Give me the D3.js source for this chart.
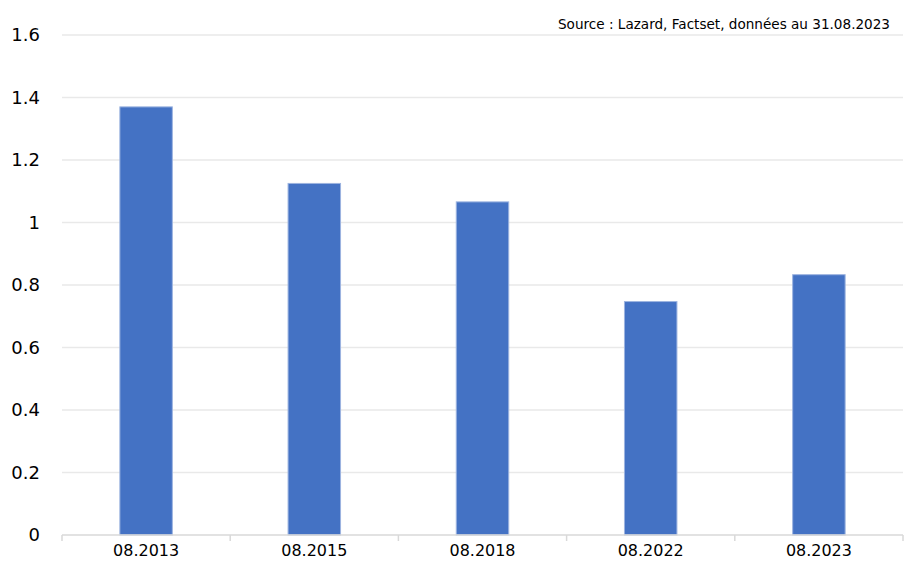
<!DOCTYPE html>
<html>
<head>
<meta charset="utf-8">
<script src="https://cdn.jsdelivr.net/npm/d3@7"></script>
<style>
    body { margin: 0; background: #fff; }
    text { font-family: "DejaVu Sans", Verdana, sans-serif; fill: #000; }
</style>
</head>
<body>
<svg id="chart"></svg>
<script>
let categories = ['08.2013', '08.2015', '08.2018', '08.2022', '08.2023'];
let values = [1.37, 1.125, 1.066, 0.747, 0.833];
let yTicks = [0, 0.2, 0.4, 0.6, 0.8, 1, 1.2, 1.4, 1.6];
let sourceText = 'Source : Lazard, Factset, données au 31.08.2023';

let width = 906;
let height = 561;
let margin = {top: 35, right: 3, bottom: 26, left: 62};

let svg = d3.select('#chart').attr('width', width).attr('height', height);

let x = d3.scaleBand().domain(categories).range([margin.left, width - margin.right]).padding(0);
let y = d3.scaleLinear().domain([0, 1.6]).range([height - margin.bottom, margin.top]);

// gridlines
svg.append('g').selectAll('line').data(yTicks.slice(1)).enter().append('line')
    .attr('x1', margin.left)
    .attr('x2', width - margin.right)
    .attr('y1', function (d) { return y(d); })
    .attr('y2', function (d) { return y(d); })
    .attr('stroke', '#e9e9e9')
    .attr('stroke-width', 1.5);

// y labels
svg.append('g').selectAll('text').data(yTicks).enter().append('text')
    .attr('x', 40)
    .attr('y', function (d) { return y(d); })
    .attr('dy', '.36em')
    .attr('text-anchor', 'end')
    .style('font-size', '18px')
    .text(function (d) { return d; });

// bars
let barW = x.bandwidth() * 0.312;
svg.append('g').selectAll('rect').data(values).enter().append('rect')
    .attr('x', function (d, i) { return x(categories[i]) + x.bandwidth() / 2 - barW / 2; })
    .attr('y', function (d) { return y(d); })
    .attr('width', barW)
    .attr('height', function (d) { return y(0) - y(d); })
    .attr('fill', '#4472c4')
    .attr('stroke', '#9db4e0')
    .attr('stroke-width', 1);

// x axis
let xAxis = svg.append('g').attr('transform', 'translate(0,' + y(0) + ')');
xAxis.append('line')
    .attr('x1', margin.left).attr('x2', width - margin.right)
    .attr('stroke', '#d9d9d9').attr('stroke-width', 1.5);
let edges = categories.map(function (c) { return x(c); }).concat([x(categories[categories.length - 1]) + x.bandwidth()]);
xAxis.selectAll('.sep').data(edges).enter().append('line')
    .attr('class', 'sep')
    .attr('x1', function (d) { return d; }).attr('x2', function (d) { return d; })
    .attr('y1', 0).attr('y2', 6)
    .attr('stroke', '#d9d9d9').attr('stroke-width', 1.5);
xAxis.selectAll('.lbl').data(categories).enter().append('text')
    .attr('class', 'lbl')
    .attr('x', function (d) { return x(d) + x.bandwidth() / 2; })
    .attr('y', 21)
    .attr('text-anchor', 'middle')
    .attr('textLength', 66)
    .attr('lengthAdjust', 'spacingAndGlyphs')
    .style('font-size', '15px')
    .text(function (d) { return d; });

// source
svg.append('text')
    .attr('x', 890)
    .attr('y', 29)
    .attr('text-anchor', 'end')
    .attr('textLength', 332)
    .attr('lengthAdjust', 'spacingAndGlyphs')
    .style('font-size', '14px')
    .text(sourceText);
</script>
</body>
</html>
